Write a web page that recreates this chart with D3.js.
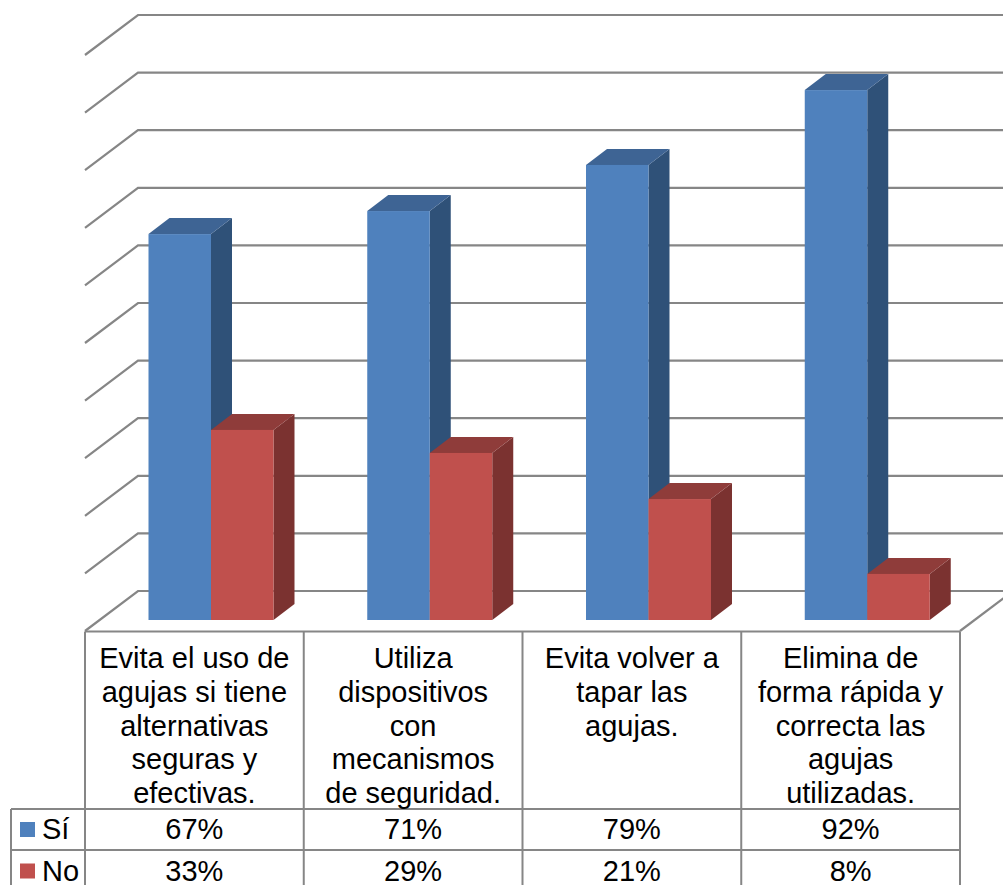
<!DOCTYPE html>
<html><head><meta charset="utf-8">
<script src="https://cdnjs.cloudflare.com/ajax/libs/d3/7.8.5/d3.min.js"></script>
<style>html,body{margin:0;padding:0;background:#fff}svg{display:block}text{font-family:"Liberation Sans",Arial,sans-serif;fill:#000}</style>
</head><body><svg id="c" width="1003" height="885"></svg>
<script>
const categories=[["Evita el uso de","agujas si tiene","alternativas","seguras y","efectivas."],["Utiliza","dispositivos","con","mecanismos","de seguridad."],["Evita volver a","tapar las","agujas."],["Elimina de","forma rápida y","correcta las","agujas","utilizadas."]];
const seriesNames=["Sí","No"];
const siValues=[67,71,79,92];
const noValues=[33,29,21,8];
const tickValues=[0,10,20,30,40,50,60,70,80,90,100];

const svg=d3.select("#c");
const W=1003,H=885;
const gridColor="#868686";
const colors=[{f:"#4F81BD",t:"#3E6494",s:"#2F5178"},{f:"#C0504D",t:"#8F3C3A",s:"#7B3230"}];
const x=d3.scaleBand().domain(d3.range(categories.length)).range([85,960]);
const y=d3.scaleLinear().domain([0,100]).range([620,44]);
const barInner=d3.scaleBand().domain([0,1]).range([63.5,188.5]);
const floorDX=53,floorDY=40,barDX=21,barDY=16;
const backOff=29;

const g=svg.append("g").attr("fill","none").attr("stroke",gridColor).attr("stroke-width",2.2);
tickValues.forEach(t=>{
  const by=y(t)-backOff, fy=by+floorDY;
  g.append("path").attr("d",`M${x(0)},${fy}L${x(0)+floorDX},${by}L${W+5},${by}`);
});
g.append("path").attr("d",`M960,631L${960+floorDX},${631-floorDY}`);

const series=[siValues,noValues];
categories.forEach((c,i)=>{
  [0,1].forEach(k=>{
    const v=series[k][i];
    const x0=x(i)+barInner(k), w=barInner.bandwidth(), yt=y(v), yb=y(0);
    const col=colors[k];
    const b=svg.append("g");
    b.append("path").attr("fill",col.s).attr("d",`M${x0+w},${yt}L${x0+w+barDX},${yt-barDY}L${x0+w+barDX},${yb-barDY}L${x0+w},${yb}Z`);
    b.append("path").attr("fill",col.t).attr("d",`M${x0},${yt}L${x0+barDX},${yt-barDY}L${x0+w+barDX},${yt-barDY}L${x0+w},${yt}Z`);
    b.append("rect").attr("fill",col.f).attr("x",x0).attr("y",yt).attr("width",w).attr("height",yb-yt);
  });
});

const rowTop=631.5,rowHead=809,rowSi=850,rowEnd=892,legendX=11;
const t=svg.append("g").attr("stroke",gridColor).attr("stroke-width",2).attr("fill","none");
t.append("path").attr("d",`M85,${rowTop}L960,${rowTop}`);
[rowHead,rowSi].forEach(r=>t.append("path").attr("d",`M${legendX},${r}L960,${r}`));
d3.range(5).forEach(i=>{
  const xx=i<4?x(i):960;
  t.append("path").attr("d",`M${xx},${rowTop}L${xx},${rowEnd}`);
});
t.append("path").attr("d",`M${legendX},${rowHead}L${legendX},${rowEnd}`);

const fs=29;
categories.forEach((lines,i)=>{
  const cx=x(i)+x.bandwidth()/2;
  lines.forEach((l,j)=>{
    svg.append("text").attr("x",cx).attr("y",668+j*33.75).attr("text-anchor","middle").attr("font-size",fs).text(l);
  });
  svg.append("text").attr("x",cx).attr("y",839).attr("text-anchor","middle").attr("font-size",fs).text(siValues[i]+"%");
  svg.append("text").attr("x",cx).attr("y",880.5).attr("text-anchor","middle").attr("font-size",fs).text(noValues[i]+"%");
});
seriesNames.forEach((n,k)=>{
  const base=[839,880.5][k];
  svg.append("rect").attr("x",20).attr("y",base-17).attr("width",15).attr("height",15).attr("fill",colors[k].f);
  svg.append("text").attr("x",42).attr("y",base).attr("font-size",fs).text(n);
});
</script></body></html>
